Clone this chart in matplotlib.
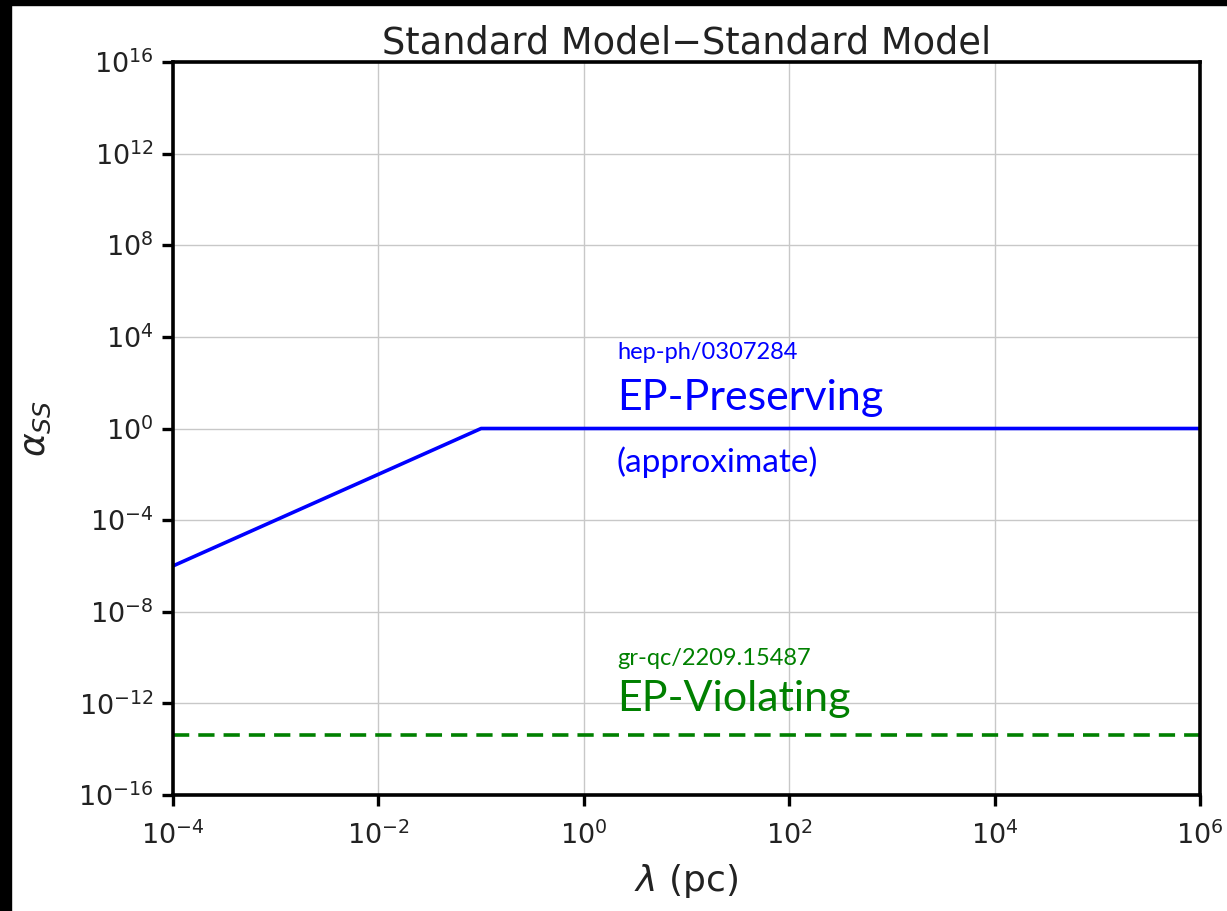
import matplotlib
matplotlib.use("Agg")
import matplotlib.pyplot as plt
import numpy as np
from matplotlib.ticker import NullLocator

# EP-preserving bound (approximate): rising segment then flat
lam_pres = [1e-4, 1e-1, 1e6]
alpha_pres = [1e-6, 1e0, 1e0]

# EP-violating bound
lam_viol = [1e-4, 1e6]
alpha_viol = [4e-14, 4e-14]

x_ticks = [1e-4, 1e-2, 1e0, 1e2, 1e4, 1e6]
y_ticks = [1e-16, 1e-12, 1e-8, 1e-4, 1e0, 1e4, 1e8, 1e12, 1e16]

W, H = 1227, 911
fig = plt.figure(figsize=(W / 100, H / 100), dpi=100)
fig.patch.set_facecolor("white")

# dark frame along the top and left edges
fig.patches.append(plt.Rectangle((0, 1 - 5 / H), 1, 5 / H, transform=fig.transFigure,
                                 color="black", zorder=10))
fig.patches.append(plt.Rectangle((0, 0), 11 / W, 1, transform=fig.transFigure,
                                 color="black", zorder=10))

ax = fig.add_axes([173 / W, 1 - 795 / H, (1200 - 173) / W, (795 - 62) / H])
ax.set_xscale("log")
ax.set_yscale("log")
ax.set_xlim(1e-4, 1e6)
ax.set_ylim(1e-16, 1e16)
ax.set_xticks(x_ticks)
ax.set_yticks(y_ticks)
ax.xaxis.set_minor_locator(NullLocator())
ax.yaxis.set_minor_locator(NullLocator())
ax.grid(True, color="#c8c8c8", linewidth=1.0)
ax.set_axisbelow(True)

for s in ax.spines.values():
    s.set_linewidth(2.6)
ax.tick_params(axis="both", which="major", length=8, width=2.4, labelsize=19.5,
               direction="out", colors="black", labelcolor="#222222", pad=6)
ax.tick_params(axis="x", pad=11)

ax.plot(lam_pres, alpha_pres, color="blue", linewidth=2.6, solid_capstyle="butt")
ax.plot(lam_viol, alpha_viol, color="green", linewidth=2.6, linestyle=(0, (4.5, 2.5)))

ax.set_title("Standard Model\u2212Standard Model", fontsize=26.5, color="#222222", pad=6)
ax.set_xlabel(r"$\lambda$ (pc)", fontsize=26, color="#222222", labelpad=9)
ax.set_ylabel(r"$\alpha_{SS}$", fontsize=26, color="#222222", labelpad=18)

fam = ["Lato", "DejaVu Sans"]
tx = 2.1
ax.text(tx, 10 ** 3.3, "hep-ph/0307284", color="blue", fontsize=17, family=fam, va="center")
ax.text(tx, 10 ** 1.35, "EP-Preserving", color="blue", fontsize=31, family=fam, va="center")
ax.text(tx, 10 ** -1.45, "(approximate)", color="blue", fontsize=24, family=fam, va="center")
ax.text(tx, 10 ** -10.05, "gr-qc/2209.15487", color="green", fontsize=17, family=fam, va="center")
ax.text(tx, 10 ** -11.8, "EP-Violating", color="green", fontsize=31, family=fam, va="center")

fig.savefig("out.png", dpi=100, facecolor="white")
